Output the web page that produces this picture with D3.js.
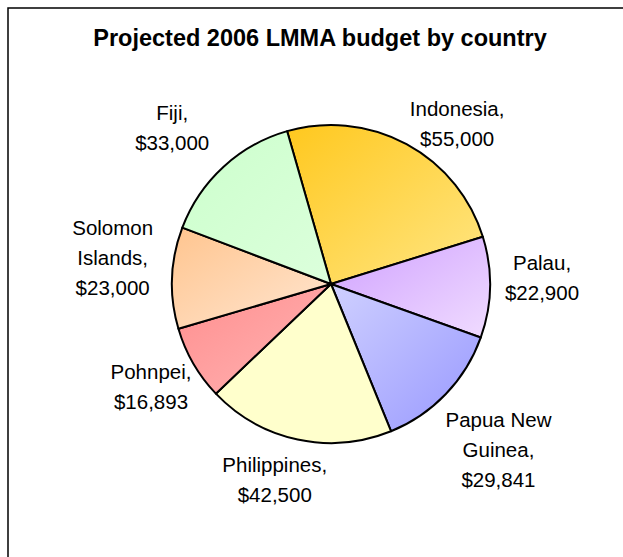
<!DOCTYPE html>
<html>
<head>
<meta charset="utf-8">
<script src="https://cdn.jsdelivr.net/npm/d3@7"></script>
<style>
  html, body { margin: 0; padding: 0; background: #fff; }
  svg { display: block; }
  text { font-family: "Liberation Sans", Arial, sans-serif; fill: #000; }
</style>
</head>
<body>
<svg id="chart" width="623" height="557"></svg>
<script>
// Budget per country (USD), in drawing order clockwise
const countries = ["Indonesia", "Palau", "Papua New Guinea", "Philippines", "Pohnpei", "Solomon Islands", "Fiji"];
const budgets = [55000, 22900, 29841, 42500, 16893, 23000, 33000];
// Label lines shown for each slice
const labelLines = [
  ["Indonesia,", "$55,000"],
  ["Palau,", "$22,900"],
  ["Papua New", "Guinea,", "$29,841"],
  ["Philippines,", "$42,500"],
  ["Pohnpei,", "$16,893"],
  ["Solomon", "Islands,", "$23,000"],
  ["Fiji,", "$33,000"]
];

// Slice fills: gradient start (top-left) and end (bottom-right)
const fillFrom = ["#ffc81e", "#cfa0ff", "#cfd0ff", "#ffffcc", "#ff8e8e", "#ffc58f", "#ccffcc"];
const fillTo   = ["#ffe684", "#f0dcff", "#9898ff", "#ffffcc", "#ffb4b4", "#ffe6d2", "#dcffdc"];
// Hand-tuned label offsets (px) applied after automatic placement
const labelShift = [[-1, 10], [6, -10], [-7, 12], [-21, 9], [6, -4], [-10, -20], [-8, -10]];

const svg = d3.select("#chart");
const W = 623, H = 557;

// Outer frame
svg.append("rect")
  .attr("x", 8).attr("y", 8)
  .attr("width", W + 40).attr("height", H + 40)
  .attr("fill", "#fff").attr("stroke", "#000").attr("stroke-width", 1.5);

// Title
svg.append("text")
  .attr("x", 320).attr("y", 46)
  .attr("text-anchor", "middle")
  .attr("font-size", 23.5).attr("font-weight", "bold")
  .text("Projected 2006 LMMA budget by country");

const cx = 331, cy = 284, r = 159;
const startAngle = -16 * Math.PI / 180;

const pie = d3.pie()
  .value(d => d.value)
  .sort(null)
  .startAngle(startAngle)
  .endAngle(startAngle + 2 * Math.PI);

const data = countries.map((c, i) => ({ name: c, value: budgets[i], lines: labelLines[i] }));
const arcs = pie(data);

const defs = svg.append("defs");
arcs.forEach((a, i) => {
  const g = defs.append("linearGradient")
    .attr("id", "grad" + i)
    .attr("x1", 0).attr("y1", 0).attr("x2", 1).attr("y2", 1);
  g.append("stop").attr("offset", "0%").attr("stop-color", fillFrom[i]);
  g.append("stop").attr("offset", "100%").attr("stop-color", fillTo[i]);
});

const arc = d3.arc().innerRadius(0).outerRadius(r);

const g = svg.append("g").attr("transform", `translate(${cx},${cy})`);

g.selectAll("path.slice")
  .data(arcs)
  .join("path")
  .attr("class", "slice")
  .attr("d", arc)
  .attr("fill", (d, i) => `url(#grad${i})`)
  .attr("stroke", "#000")
  .attr("stroke-width", 2)
  .attr("stroke-linejoin", "round");

// Data labels: the box corner facing the pie sits on a ring outside the slice's mid-angle
const fontSize = 20.5, lineH = 30, capH = 0.716 * fontSize, ringR = 168;
const labels = g.selectAll("g.label")
  .data(arcs)
  .join("g")
  .attr("class", "label");

labels.each(function(d, i) {
  const sel = d3.select(this);
  const n = d.data.lines.length;
  const t = sel.append("text")
    .attr("text-anchor", "middle")
    .attr("font-size", fontSize);
  d.data.lines.forEach((ln, k) => {
    t.append("tspan")
      .attr("x", 0)
      .attr("y", (k - (n - 1) / 2) * lineH + capH / 2)
      .text(ln);
  });
  const bb = t.node().getBBox();
  const hw = bb.width / 2, hh = ((n - 1) * lineH + capH) / 2;
  const mid = (d.startAngle + d.endAngle) / 2;
  const ux = Math.sin(mid), uy = -Math.cos(mid);
  const px = ux * ringR, py = uy * ringR;
  const sx = Math.abs(ux) < 0.35 ? 0 : Math.sign(ux);
  const sy = Math.abs(uy) < 0.35 ? 0 : Math.sign(uy);
  const x = px + sx * hw + labelShift[i][0];
  const y = py + sy * hh + labelShift[i][1];
  sel.attr("transform", `translate(${x},${y})`);
});
</script>
</body>
</html>
